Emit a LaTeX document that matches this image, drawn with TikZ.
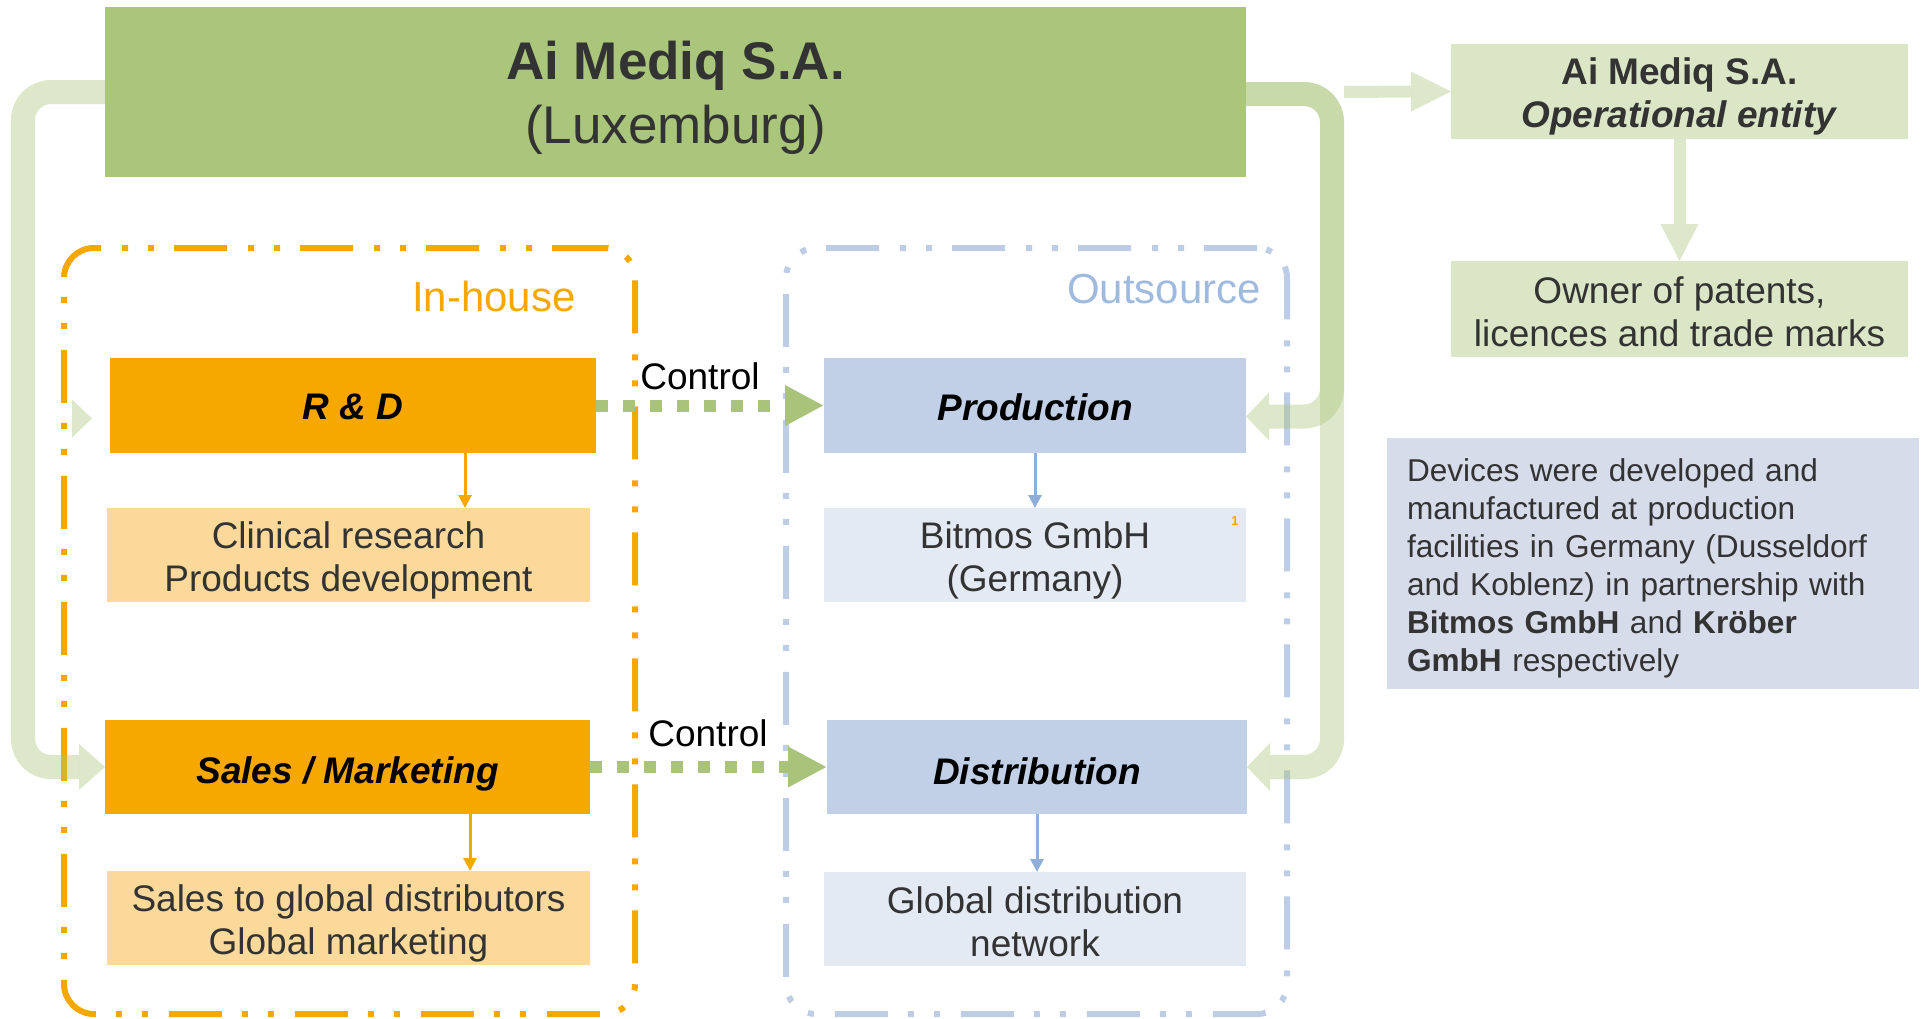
\documentclass[tikz,border=0pt]{standalone}
\usepackage{fontspec}
\setmainfont{Liberation Sans}
\usetikzlibrary{arrows.meta}
\definecolor{tgreen}{HTML}{A9C67A}
\definecolor{lgreen}{HTML}{A9C47A}
\definecolor{opbox}{HTML}{DAE6C6}
\definecolor{orng}{HTML}{F6A800}
\definecolor{lorng}{HTML}{FAD99B}
\definecolor{blu}{HTML}{C1D0E7}
\definecolor{lblu}{HTML}{E4EAF4}
\definecolor{devbox}{HTML}{D6DCEA}
\definecolor{dgray}{HTML}{333333}
\definecolor{outblue}{HTML}{BDCDE5}
\definecolor{outtext}{HTML}{9FBADF}
\definecolor{barrow}{HTML}{8FAED9}
\begin{document}
\begin{tikzpicture}[x=1pt,y=-1pt,
  box/.style={rectangle, inner sep=0pt, outer sep=0pt},
  txt/.style={inner sep=0pt, align=center, text=dgray, font=\fontsize{37}{43}\selectfont},
  btxt/.style={txt, text=black},
  dashbox/.style={rectangle, inner sep=0pt, outer sep=0pt, rounded corners=30pt, line width=6pt,
     dash pattern=on 53pt off 20pt on 6pt off 20pt on 6pt off 21pt},
  band/.style={draw=lgreen, draw opacity=0.4, line width=24pt, rounded corners=28pt},
  bandhead/.style={fill=lgreen, fill opacity=0.4},
  thinband/.style={draw=lgreen, draw opacity=0.4, line width=12pt},
  ctrl/.style={draw=lgreen, line width=12pt, dash pattern=on 12pt off 15pt, -{Triangle[length=39pt,width=38pt]}},
  orarrow/.style={draw=orng, line width=3pt, -{Triangle[length=13pt,width=13pt]}},
  blarrow/.style={draw=barrow, line width=3pt, -{Triangle[length=13pt,width=13pt]}},
  lbl/.style={inner sep=0pt, font=\fontsize{37}{43}\selectfont}
]
\useasboundingbox (0,0) rectangle (1923,1018);

% dashed groups
\node[dashbox, draw=orng, minimum width=571pt, minimum height=766pt] (ih) at (349.5,631) {};
\node[dashbox, draw=outblue, minimum width=501pt, minimum height=766pt] (os) at (1036.5,631) {};
\node[inner sep=0pt, text=orng, font=\fontsize{42}{48}\selectfont] (ihl) at (494,296) {In-house};
\node[inner sep=0pt, text=outtext, font=\fontsize{42}{48}\selectfont] (osl) at (1164,289) {Outsource};

% title
\node[box, fill=tgreen, minimum width=1141pt, minimum height=170pt] (title) at (675.5,92) {};
\node[txt, font=\fontsize{53}{64}\selectfont] (titlet) at ([yshift=-6pt]title.center) {\textbf{Ai Mediq S.A.}\\(Luxemburg)};

% right column
\node[box, fill=opbox, minimum width=457pt, minimum height=95pt] (op) at (1679.5,91.5) {};
\node[txt] (opt) at ([yshift=-5pt]op.center) {\textbf{Ai Mediq S.A.}\\\textbf{\textit{Operational entity}}};
\node[box, fill=opbox, minimum width=457pt, minimum height=96pt] (owner) at (1679.5,309) {};
\node[txt] (ownert) at ([yshift=-3pt]owner.center) {Owner of patents,\\licences and trade marks};
\node[box, fill=devbox, minimum width=532pt, minimum height=251pt] (dev) at (1653,563.5) {};
\node[txt, text width=492pt, align=left, font=\fontsize{31.6}{38}\selectfont] (devt) at ([yshift=-5pt]dev.center)
 {Devices were developed and\\manufactured at production\\facilities in Germany (Dusseldorf\\and Koblenz) in partnership with\\\textbf{Bitmos GmbH} and \textbf{Kröber}\\\textbf{GmbH} respectively};

% in-house boxes
\node[box, fill=orng, minimum width=486pt, minimum height=95pt] (rd) at (353,405.5) {};
\node[btxt] (rdt) at ([yshift=-1pt]rd.center) {\textbf{\textit{R \& D}}};
\node[box, fill=lorng, minimum width=483pt, minimum height=94pt] (cr) at (348.5,555) {};
\node[txt] (crt) at ([yshift=-5pt]cr.center) {Clinical research\\Products development};
\node[box, fill=orng, minimum width=485pt, minimum height=94pt] (sales) at (347.5,767) {};
\node[btxt] (salest) at ([yshift=-7pt]sales.center) {\textbf{\textit{Sales / Marketing}}};
\node[box, fill=lorng, minimum width=483pt, minimum height=94pt] (sg) at (348.5,918) {};
\node[txt] (sgt) at ([yshift=-5pt]sg.center) {Sales to global distributors\\Global marketing};

% outsource boxes
\node[box, fill=blu, minimum width=422pt, minimum height=95pt] (prod) at (1035,405.5) {};
\node[btxt] (prodt) at ([yshift=-2pt]prod.center) {\textbf{\textit{Production}}};
\node[box, fill=lblu, minimum width=422pt, minimum height=94pt] (bit) at (1035,555) {};
\node[txt] (bitt) at ([yshift=-5pt]bit.center) {Bitmos GmbH\\(Germany)};
\node[inner sep=0pt, text=orng, font=\fontsize{13}{15}\selectfont\bfseries] (sup) at (1235,521) {1};
\node[box, fill=blu, minimum width=420pt, minimum height=94pt] (dist) at (1037,767) {};
\node[btxt] (distt) at ([yshift=-4pt]dist.center) {\textbf{\textit{Distribution}}};
\node[box, fill=lblu, minimum width=422pt, minimum height=94pt] (gd) at (1035,919) {};
\node[txt] (gdt) at ([yshift=-3pt]gd.center) {Global distribution\\network};

% inner arrows
\draw[orarrow] ([xshift=112pt]rd.south) -- ([xshift=112pt]rd.south |- cr.north);
\draw[orarrow] ([xshift=122.5pt]sales.south) -- ([xshift=122.5pt]sales.south |- sg.north);
\draw[blarrow] (prod.south) -- (prod.south |- bit.north);
\draw[blarrow] (dist.south) -- (dist.south |- gd.north);

% control arrows
\draw[ctrl] (rd.east) -- (prod.west);
\draw[ctrl] (sales.east) -- (dist.west);
\node[lbl] (c1) at (700,376) {Control};
\node[lbl] (c2) at (708,733) {Control};

% left loop
\draw[band] (title.west) -- ++(-82,0) |- ([xshift=-26pt]sales.west);
\fill[bandhead] (sales.west) -- ++(-26,-23) -- ++(0,46) -- cycle;
\coordinate (rdtip) at ([xshift=-18pt,yshift=-13pt]rd.west);
\fill[bandhead] (rdtip) -- ++(-20,-19) -- ++(0,38) -- cycle;

% right loop
\draw[band] ([yshift=-2pt]title.east) -- ++(86,0) |- ([xshift=23pt,yshift=-11pt]prod.east);
\fill[bandhead] ([yshift=-11pt]prod.east) -- ++(23,-24) -- ++(0,48) -- cycle;
\draw[band] ([yshift=-2pt]title.east) -- ++(86,0) |- ([xshift=23pt]dist.east);
\fill[bandhead] (dist.east) -- ++(23,-24) -- ++(0,48) -- cycle;

% to operational entity
\coordinate (tstart) at ([xshift=98pt]title.east);
\draw[thinband] (tstart) -- ([xshift=-40pt]op.west);
\fill[bandhead] (op.west) -- ++(-40,-20) -- ++(0,40) -- cycle;
\draw[thinband] (op.south) -- ([yshift=37pt]owner.north);
\fill[bandhead] (owner.north) -- ++(-19,-37) -- ++(38,0) -- cycle;
\end{tikzpicture}
\end{document}
